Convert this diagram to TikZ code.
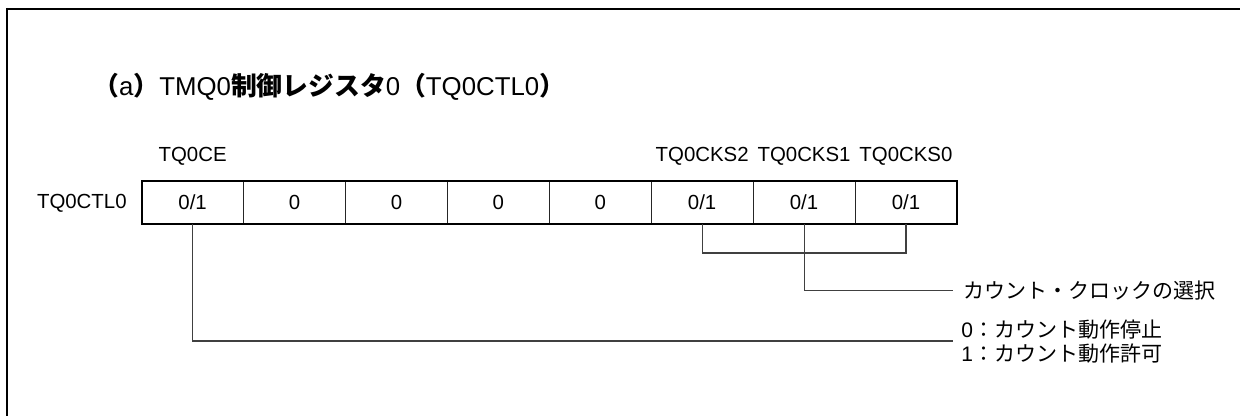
\documentclass[tikz,border=0pt]{standalone}
\usepackage{fontspec}
\setmainfont{Liberation Sans}
\newfontfamily\cjk{Noto Sans CJK JP}
\newcommand\lblfont{\fontsize{10.2pt}{10.5pt}\selectfont}
\newcommand\jpfont{\fontsize{10.5pt}{10.5pt}\selectfont}
\newcommand\ttlfont{\fontsize{12.9pt}{14pt}\selectfont}
\begin{document}
\begin{tikzpicture}[x=0.5pt,y=-0.5pt,
  frame/.style={line width=1pt,black},
  cell/.style={draw=black!85,line width=0.5pt,minimum width=50.95pt,minimum height=21.75pt,inner sep=0pt,outer sep=0pt,font=\lblfont},
  regborder/.style={line width=1pt,black},
  lead/.style={draw=black!75,line width=0.55pt},
  lbl/.style={inner sep=0pt,font=\lblfont},
  desc/.style={inner sep=0pt,anchor=west,align=left,font=\jpfont}]
\useasboundingbox (0,0) rectangle (1240,416);
% frame
\draw[frame] (6,8.7) -- (1241,8.7);
\draw[frame] (6.8,8) -- (6.8,417);
% title
\node[inner sep=0pt,anchor=west,font=\ttlfont] (title) at (93,87)
  {{\cjk\bfseries （}a{\cjk\bfseries ）}TMQ0{\cjk\bfseries 制御レジスタ}0{\cjk\bfseries （}TQ0CTL0{\cjk\bfseries ）}};
% cells
\node[cell] (c1) at (192.65,202.5) {0/1};
\node[cell] (c2) at (294.55,202.5) {0};
\node[cell] (c3) at (396.45,202.5) {0};
\node[cell] (c4) at (498.35,202.5) {0};
\node[cell] (c5) at (600.25,202.5) {0};
\node[cell] (c6) at (702.15,202.5) {0/1};
\node[cell] (c7) at (804.05,202.5) {0/1};
\node[cell] (c8) at (905.95,202.5) {0/1};
\draw[regborder] (c1.north west) rectangle (c8.south east);
% register name and bit names
\node[lbl,anchor=east] (reg) at (127,203) {TQ0CTL0};
\node[lbl] (n7) at (c1.north) [yshift=12.3pt] {TQ0CE};
\node[lbl] (n2) at (c6.north) [yshift=12.3pt] {TQ0CKS2};
\node[lbl] (n1) at (c7.north) [yshift=12.3pt] {TQ0CKS1};
\node[lbl] (n0) at (c8.north) [yshift=12.3pt] {TQ0CKS0};
% descriptions
\coordinate (clk) at (953,290.7);
\coordinate (brk) at (0,253);
\coordinate (ce) at (953,341);
\node[desc] (tclk) at (963,290.7) {\cjk カウント・クロックの選択};
\node[desc] (tce) at (961,341.5) {0{\cjk ：カウント動作停止}\\[1.5pt]1{\cjk ：カウント動作許可}};
% leaders
\draw[lead] (c6.south) -- (c6.south |- brk) -- (c8.south |- brk) -- (c8.south);
\draw[lead] (c7.south) -- (c7.south |- clk) -- (clk);
\draw[lead] (c1.south) -- (c1.south |- ce) -- (ce);
\end{tikzpicture}
\end{document}
